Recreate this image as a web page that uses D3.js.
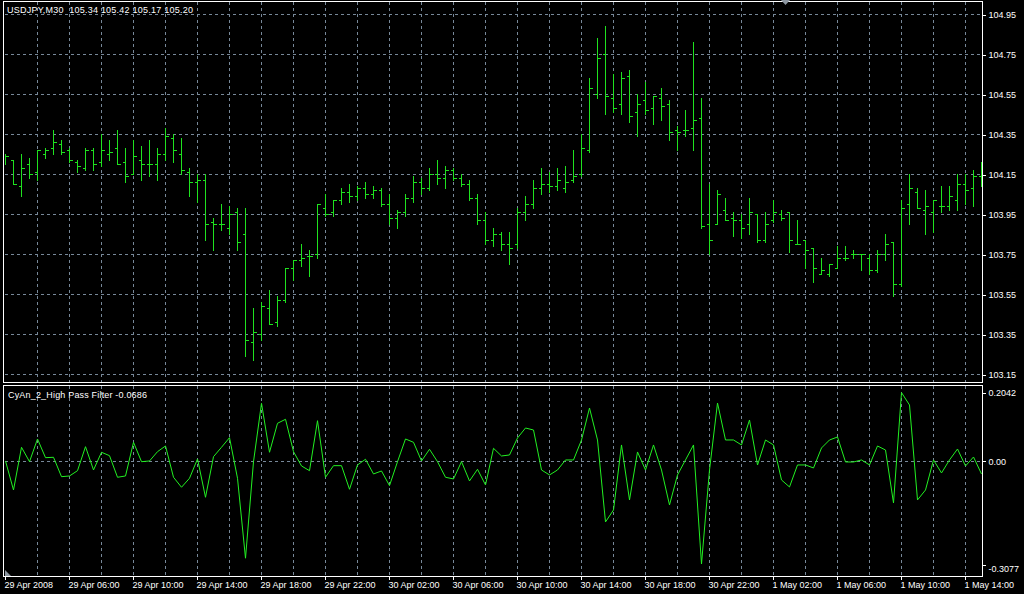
<!DOCTYPE html>
<html>
<head>
<meta charset="utf-8">
<script src="https://cdn.jsdelivr.net/npm/d3@7"></script>
<style>
  html, body { margin: 0; padding: 0; background: #000; overflow: hidden; }
  text { font-family: "Liberation Sans", Arial, sans-serif; font-size: 9px; fill: #fff; }
</style>
</head>
<body>
<svg id="chart" width="1024" height="594"></svg>
<script>
// USDJPY M30 bars, 29 Apr 2008 02:00 onwards
const opens = [104.23,104.22,104.09,104.20,104.16,104.25,104.28,104.30,104.27,104.21,
  104.18,104.27,104.21,104.25,104.28,104.21,104.15,104.22,104.20,104.20,
  104.25,104.33,104.25,104.16,104.11,104.12,103.91,103.90,103.88,103.96,
  103.85,103.31,103.35,103.48,103.41,103.52,103.68,103.72,103.74,103.75,
  103.98,103.96,104.02,104.06,104.04,104.08,104.05,104.07,104.00,103.93,
  103.96,104.03,104.11,104.08,104.15,104.13,104.17,104.13,104.10,104.03,
  103.92,103.82,103.85,103.80,103.80,103.96,104.00,104.08,104.10,104.09,
  104.08,104.12,104.15,104.27,104.55,104.75,104.53,104.50,104.64,104.46,
  104.52,104.48,104.53,104.50,104.37,104.37,104.38,104.43,103.90,103.90,
  103.97,103.93,103.92,103.90,103.95,103.82,103.92,103.95,103.96,103.80,
  103.82,103.78,103.65,103.65,103.68,103.73,103.75,103.75,103.73,103.67,
  103.75,103.81,103.60,104.00,104.06,103.97,103.96,103.99,103.99,104.02,
  104.10,104.08,104.14];
const highs = [104.25,104.22,104.25,104.23,104.27,104.28,104.37,104.32,104.28,104.22,
  104.28,104.28,104.35,104.32,104.37,104.28,104.32,104.29,104.32,104.28,
  104.38,104.35,104.33,104.18,104.15,104.15,103.93,104.00,103.99,103.98,
  103.98,103.48,103.51,103.57,103.54,103.68,103.72,103.80,103.77,104.00,
  104.05,104.02,104.08,104.10,104.09,104.11,104.09,104.08,104.05,103.97,
  104.05,104.14,104.13,104.18,104.22,104.19,104.18,104.15,104.12,104.05,
  103.96,103.88,103.86,103.86,103.98,104.04,104.12,104.18,104.16,104.18,
  104.19,104.27,104.35,104.63,104.83,104.89,104.65,104.66,104.67,104.55,
  104.61,104.54,104.58,104.52,104.39,104.47,104.81,104.53,104.10,104.07,
  104.03,103.96,103.95,104.03,103.95,103.96,104.02,103.97,103.96,103.92,
  103.82,103.78,103.73,103.70,103.79,103.79,103.77,103.75,103.75,103.77,
  103.85,103.81,104.02,104.15,104.08,104.07,104.02,104.09,104.09,104.15,
  104.15,104.17,104.21];
const lows = [104.20,104.10,104.04,104.13,104.12,104.23,104.25,104.25,104.21,104.16,
  104.17,104.17,104.19,104.22,104.20,104.11,104.15,104.12,104.14,104.12,
  104.22,104.21,104.15,104.04,104.01,103.82,103.77,103.87,103.85,103.77,
  103.24,103.22,103.32,103.40,103.39,103.51,103.62,103.69,103.64,103.73,
  103.94,103.94,104.00,104.01,104.02,104.03,104.03,103.99,103.90,103.88,
  103.94,104.01,104.05,104.07,104.10,104.08,104.12,104.09,104.02,103.90,
  103.80,103.79,103.77,103.70,103.78,103.92,103.98,104.05,104.06,104.07,
  104.06,104.11,104.14,104.26,104.53,104.45,104.46,104.45,104.41,104.34,
  104.45,104.40,104.42,104.32,104.27,104.34,104.27,103.88,103.75,103.90,
  103.92,103.84,103.83,103.85,103.81,103.81,103.91,103.92,103.76,103.80,
  103.68,103.61,103.65,103.64,103.68,103.72,103.73,103.67,103.65,103.66,
  103.72,103.54,103.59,103.90,103.98,103.85,103.86,103.96,103.97,103.97,
  104.00,103.99,104.09];
const closes = [104.24,104.10,104.18,104.15,104.27,104.27,104.31,104.26,104.22,104.19,
  104.27,104.20,104.27,104.26,104.20,104.14,104.24,104.20,104.20,104.25,
  104.34,104.27,104.17,104.11,104.12,103.90,103.90,103.90,103.95,103.81,
  103.32,103.36,103.49,103.40,103.52,103.68,103.72,103.73,103.74,104.00,
  103.95,104.02,104.06,104.04,104.08,104.05,104.07,104.00,103.93,103.96,
  104.03,104.11,104.08,104.15,104.13,104.17,104.13,104.10,104.03,103.92,
  103.82,103.85,103.80,103.78,103.96,104.00,104.08,104.10,104.09,104.12,
  104.11,104.14,104.28,104.58,104.73,104.54,104.48,104.63,104.44,104.50,
  104.47,104.54,104.49,104.36,104.36,104.37,104.42,103.89,103.82,104.05,
  103.92,103.92,103.88,103.96,103.82,103.90,103.96,103.93,103.82,103.80,
  103.77,103.68,103.67,103.70,103.73,103.73,103.75,103.75,103.67,103.75,
  103.80,103.60,103.98,104.08,103.98,103.99,104.02,103.99,104.04,104.10,
  104.07,104.14,104.18];

// CyAn_2_High Pass Filter values, one per bar
const filterValues = [0.0000,-0.0866,0.0409,-0.0021,0.0657,0.0099,0.0110,-0.0469,-0.0448,-0.0290,
  0.0427,-0.0269,0.0260,0.0158,-0.0487,-0.0448,0.0558,-0.0021,0.0000,0.0278,
  0.0448,-0.0487,-0.0785,-0.0516,0.0060,-0.1084,0.0128,0.0409,0.0696,-0.0516,
  -0.2904,-0.0021,0.1722,0.0260,0.1125,0.1245,0.0278,-0.0149,-0.0290,0.1203,
  -0.0487,-0.0140,-0.0140,-0.0845,-0.0119,0.0051,-0.0388,-0.0299,-0.0737,-0.0021,
  0.0657,0.0558,0.0000,0.0349,-0.0021,-0.0487,-0.0537,-0.0021,-0.0597,-0.0248,
  -0.0716,0.0379,0.0149,0.0179,0.0687,0.0985,0.0925,-0.0269,-0.0418,-0.0269,
  0.0030,0.0030,0.0627,0.1582,0.0627,-0.1821,-0.1463,0.0478,-0.1164,0.0269,
  -0.0269,0.0478,-0.0269,-0.1313,-0.0418,0.0030,0.0478,-0.3077,-0.0269,0.1731,
  0.0627,0.0627,0.0478,0.1224,-0.0119,0.0627,0.0478,-0.0567,-0.0776,-0.0119,
  -0.0119,-0.0209,0.0388,0.0627,0.0716,-0.0030,-0.0030,0.0030,-0.0119,0.0448,
  0.0328,-0.1254,0.2042,0.1672,-0.1164,-0.0866,0.0030,-0.0358,0.0030,0.0358,
  -0.0149,0.0119,-0.0388];

const priceTicks = [104.95, 104.75, 104.55, 104.35, 104.15, 103.95, 103.75, 103.55, 103.35, 103.15];
const filterTicks = [0.2042, 0, -0.3077];
const timeLabels = ["29 Apr 2008", "29 Apr 06:00", "29 Apr 10:00", "29 Apr 14:00", "29 Apr 18:00",
  "29 Apr 22:00", "30 Apr 02:00", "30 Apr 06:00", "30 Apr 10:00", "30 Apr 14:00", "30 Apr 18:00",
  "30 Apr 22:00", "1 May 02:00", "1 May 06:00", "1 May 10:00", "1 May 14:00"];
const titleText = "USDJPY,M30  105.34 105.42 105.17 105.20";
const filterTitle = "CyAn_2_High Pass Filter -0.0686";

const barColor = "#1fe21f";
const lineColor = "#22f022";
const gridColor = "#778899";

const left = 4, right = 982;
const mainTop = 1, mainBottom = 382;
const subTop = 385, subBottom = 576;

const svg = d3.select("#chart");
svg.append("rect").attr("width", 1024).attr("height", 594).attr("fill", "#000");

const n = closes.length;
const x = d3.scaleLinear().domain([0, n - 1]).range([5, 981]);
const y = d3.scaleLinear().domain([103.15, 104.95]).range([374, 14]);
const yf = d3.scaleLinear().domain([-0.3077, 0.2042]).range([564, 392.6]);
const px = v => Math.round(v) + 0.5;

svg.append("clipPath").attr("id", "clipMain")
  .append("rect").attr("x", left + 1).attr("y", mainTop + 1)
  .attr("width", right - left - 1).attr("height", mainBottom - mainTop - 1);
svg.append("clipPath").attr("id", "clipSub")
  .append("rect").attr("x", left + 1).attr("y", subTop + 1)
  .attr("width", right - left - 1).attr("height", subBottom - subTop - 1);

// grid
const grid = svg.append("g")
  .attr("stroke", gridColor)
  .attr("stroke-dasharray", "3,3")
  .attr("shape-rendering", "crispEdges");

const gridIdx = d3.range(4, n, 4);
grid.selectAll("line.vm").data(gridIdx).enter().append("line")
  .attr("x1", d => px(x(d))).attr("x2", d => px(x(d)))
  .attr("y1", mainTop + 1).attr("y2", mainBottom);
grid.selectAll("line.vs").data(gridIdx).enter().append("line")
  .attr("x1", d => px(x(d))).attr("x2", d => px(x(d)))
  .attr("y1", subTop + 1).attr("y2", subBottom);
grid.selectAll("line.h").data(priceTicks).enter().append("line")
  .attr("x1", left + 1).attr("x2", right)
  .attr("y1", d => px(y(d))).attr("y2", d => px(y(d)));
grid.append("line")
  .attr("x1", left + 1).attr("x2", right)
  .attr("y1", px(yf(0))).attr("y2", px(yf(0)));

// OHLC bars
svg.append("g").attr("clip-path", "url(#clipMain)")
  .attr("stroke", barColor).attr("fill", "none")
  .attr("shape-rendering", "crispEdges")
  .selectAll("path").data(d3.range(n)).enter().append("path")
  .attr("d", i => {
    const cx = px(x(i));
    return `M${cx},${Math.round(y(highs[i]))}V${Math.round(y(lows[i])) + 1}` +
      `M${cx - 3},${px(y(opens[i]))}H${cx}` +
      `M${cx},${px(y(closes[i]))}H${cx + 3}`;
  });

// indicator line
svg.append("path").attr("clip-path", "url(#clipSub)")
  .datum(filterValues)
  .attr("fill", "none").attr("stroke", lineColor).attr("stroke-width", 1)
  .attr("d", d3.line().x((d, i) => x(i) + 0.5).y(d => yf(d)));

// frames
const frame = svg.append("g").attr("fill", "none").attr("stroke", "#fff")
  .attr("shape-rendering", "crispEdges");
frame.append("rect").attr("x", left - 0.5).attr("y", mainTop + 0.5)
  .attr("width", right - left + 1).attr("height", mainBottom - mainTop);
frame.append("rect").attr("x", left - 0.5).attr("y", subTop + 0.5)
  .attr("width", right - left + 1).attr("height", subBottom - subTop);

// price axis
const yAxis = svg.append("g").attr("transform", `translate(${right + 0.5},0.5)`)
  .call(d3.axisRight(y).tickValues(priceTicks).tickSize(3).tickPadding(3)
    .tickFormat(d3.format(".2f")));
const fAxis = svg.append("g").attr("transform", `translate(${right + 0.5},0.5)`)
  .call(d3.axisRight(yf).tickValues(filterTicks).tickSize(3).tickPadding(3)
    .tickFormat(d => d === 0 ? "0.00" : d.toFixed(4)));
fAxis.selectAll(".tick").filter(d => d === -0.3077).select("text").attr("dy", "0.75em");

// time axis
const xAxis = svg.append("g").attr("transform", `translate(0,${subBottom + 0.5})`)
  .call(d3.axisBottom(x).tickValues(d3.range(0, n, 8)).tickSize(3).tickPadding(2)
    .tickFormat((d, i) => timeLabels[i]));
xAxis.selectAll("text").attr("text-anchor", "start").attr("dx", -1);

[yAxis, fAxis, xAxis].forEach(a => {
  a.select(".domain").remove();
  a.selectAll(".tick line").attr("stroke", "#fff").attr("shape-rendering", "crispEdges");
  a.selectAll("text").attr("fill", "#fff").attr("font-size", 9)
    .attr("font-family", "Liberation Sans, Arial, sans-serif");
});

// chart shift markers
svg.append("path").attr("d", "M781,0H790L785.5,5Z").attr("fill", "#8c96a0");
svg.append("path").attr("d", "M5,570V576H11Z").attr("fill", "#8c96a0");

// titles
svg.append("text").attr("x", 7).attr("y", 13)
  .attr("xml:space", "preserve").attr("textLength", 186).attr("lengthAdjust", "spacing")
  .text(titleText);
svg.append("text").attr("x", 8).attr("y", 398)
  .attr("textLength", 139).attr("lengthAdjust", "spacing")
  .text(filterTitle);
</script>
</body>
</html>
